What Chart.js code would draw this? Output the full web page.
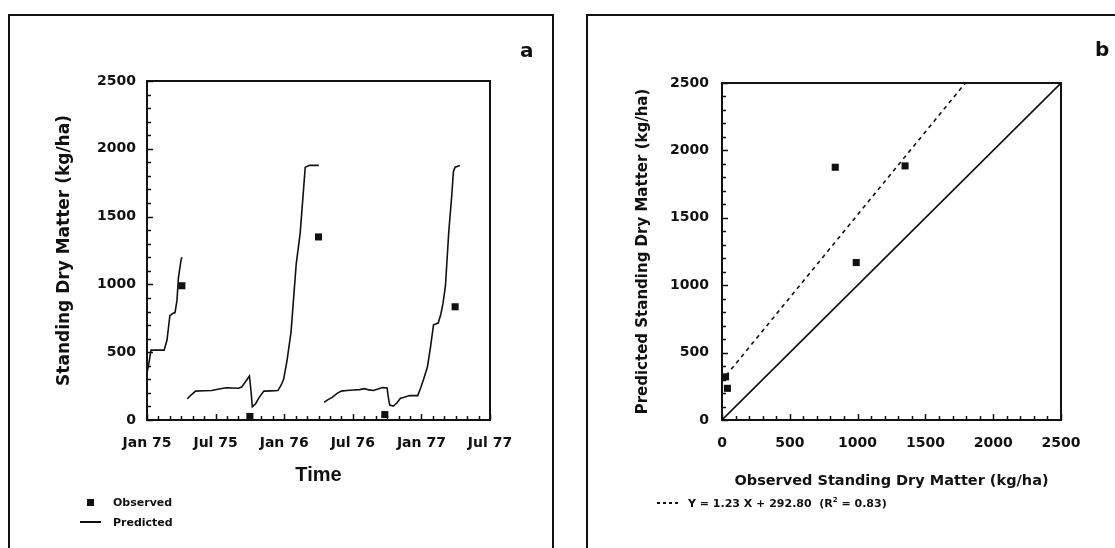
<!DOCTYPE html>
<html>
<head>
<meta charset="utf-8">
<script src="https://cdn.jsdelivr.net/npm/chart.js@4.4.1/dist/chart.umd.min.js"></script>
<style>
  body { margin: 0; width: 1115px; height: 548px; overflow: hidden; background: #fff; position: relative; }
  .panel { position: absolute; box-sizing: border-box; border: 2px solid #111; border-bottom: none; height: 600px; }
  canvas { position: absolute; }
  .txt { position: absolute; font-family: "DejaVu Sans", sans-serif; font-weight: bold; color: #111; white-space: nowrap; transform: translateY(-50%); }
  .mark { position: absolute; background: #111; }
</style>
</head>
<body>
<div class="panel" style="left:8px; top:14px; width:546px;"></div>
<div class="panel" style="left:586px; top:14px; width:600px;"></div>

<canvas id="chartA" width="520" height="450" style="left:20px; top:60px;"></canvas>
<canvas id="chartB" width="520" height="450" style="left:590px; top:60px;"></canvas>

<div class="txt" style="left:520px; top:50px; font-size:20px;">a</div>
<div class="txt" style="left:1095px; top:49px; font-size:20px;">b</div>

<!-- legend, panel a -->
<div class="mark" style="left:87px; top:499px; width:7px; height:7px;"></div>
<div class="txt" style="left:113px; top:502px; font-size:11px;">Observed</div>
<div class="mark" style="left:80px; top:521px; width:21px; height:2px;"></div>
<div class="txt" style="left:113px; top:522px; font-size:11px;">Predicted</div>

<!-- legend, panel b -->
<div style="position:absolute; left:657px; top:502px; width:21px; height:2px; background:repeating-linear-gradient(to right,#111 0 3px,transparent 3px 6px);"></div>
<div class="txt" style="left:688px; top:503px; font-size:11px;">Y = 1.23 X + 292.80&nbsp;&nbsp;(R<sup style="font-size:7px;">2</sup> = 0.83)</div>

<script>
// time axis: months since Jan 1975
const timeTickLabels = ["Jan 75", "Jul 75", "Jan 76", "Jul 76", "Jan 77", "Jul 77"];
const dmTickValues = [0, 500, 1000, 1500, 2000, 2500];

// simulated standing dry matter, null splits the growing seasons
const predMonths = [
    0, 0.15, 0.35, 1.5, 1.75, 2.0, 2.25, 2.45, 2.62, 2.75, 2.97, 3.05,
    3.3,
    3.52, 3.8, 4.25, 5.0, 5.66, 6.3, 6.92, 7.5, 8.02, 8.3, 8.6, 8.96, 9.1, 9.21, 9.5, 9.8,
    10.22, 10.8, 11.45, 11.75, 11.95, 12.25, 12.6, 13.05, 13.4, 13.84, 14.2, 15.03,
    15.3,
    15.5, 15.8, 16.19, 16.6, 16.98, 17.5, 18.08, 18.6, 19.03, 19.4, 19.8, 20.2, 20.6, 21.0,
    21.1, 21.23, 21.54, 21.85, 22.17, 22.5, 22.96, 23.3, 23.68, 23.95, 24.2, 24.53, 24.8,
    25.06, 25.47, 25.7, 25.88, 26.1, 26.4, 26.65, 26.8, 26.95, 27.36
];
const predValues = [
    350, 410, 515, 515, 590, 770, 785, 792, 880, 1050, 1175, 1200,
    null,
    157, 180, 213, 216, 218, 228, 238, 236, 234, 245, 280, 324, 210, 98, 120, 165,
    213, 215, 217, 260, 300, 440, 650, 1150, 1380, 1864, 1878, 1878,
    null,
    131, 148, 167, 195, 213, 218, 221, 224, 231, 222, 218, 228, 239, 236,
    170, 110, 103, 125, 160, 168, 180, 180, 180, 240, 303, 393, 540,
    702, 715, 780, 856, 985, 1396, 1650, 1833, 1864, 1877
];

// field samples
const obsMonths = [3.05, 9.0, 15.0, 20.8, 26.95];
const obsValues = [990, 26, 1350, 40, 835];

// observed vs predicted at the sampling dates
const obsDM = [26, 40, 835, 990, 1350];
const predDM = [320, 235, 1875, 1168, 1885];

// fitted line Y = a X + b
const fitSlope = 1.23;
const fitIntercept = 292.80;
const fitX = [30, (2500 - fitIntercept) / fitSlope];

const ink = "#111";
const tickFont = { family: "DejaVu Sans", weight: "bold", size: 14 };

// frame round the plot and inward tick marks on the bottom and left axes
const frameTicks = {
    id: "frameTicks",
    afterDatasetsDraw(chart) {
        const { ctx, chartArea: a } = chart;
        ctx.save();
        ctx.strokeStyle = ink;
        ctx.lineWidth = 2;
        ctx.strokeRect(a.left, a.top, a.right - a.left, a.bottom - a.top);
        ctx.lineWidth = 1.5;
        ctx.beginPath();
        const xs = chart.scales.x, ys = chart.scales.y;
        xs.ticks.forEach((t) => {
            const px = Math.round(xs.getPixelForValue(t.value)) + 0.5;
            const len = t.label ? 6 : 4;
            ctx.moveTo(px, a.bottom);
            ctx.lineTo(px, a.bottom - len);
        });
        ys.ticks.forEach((t) => {
            const py = Math.round(ys.getPixelForValue(t.value)) + 0.5;
            const len = t.label ? 6 : 4;
            ctx.moveTo(a.left, py);
            ctx.lineTo(a.left + len, py);
        });
        ctx.stroke();
        ctx.restore();
    }
};

// 0..2500 kg/ha axis, a tick every 100, labels every 500
function dmAxis(tickPadding, extra) {
    return Object.assign({
        type: "linear",
        min: 0,
        max: 2500,
        grid: { display: false, drawTicks: false },
        border: { display: false },
        ticks: {
            stepSize: 100,
            autoSkip: false,
            maxRotation: 0,
            minRotation: 0,
            padding: tickPadding,
            color: ink,
            font: tickFont,
            callback: (v) => dmTickValues.includes(v) ? String(v) : ""
        }
    }, extra);
}

const baseOptions = {
    responsive: false,
    animation: false,
    plugins: { legend: { display: false }, tooltip: { enabled: false } },
};

// panel a: time course
new Chart(document.getElementById("chartA"), {
    type: "scatter",
    data: {
        datasets: [
            {
                type: "line",
                data: predMonths.map((m, i) => ({ x: m, y: predValues[i] })),
                borderColor: ink,
                borderWidth: 1.6,
                pointRadius: 0,
                spanGaps: false,
                tension: 0,
            },
            {
                data: obsMonths.map((m, i) => ({ x: m, y: obsValues[i] })),
                pointStyle: "rect",
                pointRadius: 5,
                backgroundColor: ink,
                borderColor: ink,
                borderWidth: 0,
            },
        ],
    },
    options: Object.assign({}, baseOptions, {
        layout: { padding: { top: 21, right: 50, left: 0, bottom: 0 } },
        scales: {
            x: {
                type: "linear",
                min: 0,
                max: 30,
                grid: { display: false, drawTicks: false },
                border: { display: false },
                afterFit: (s) => { s.height = 90; },
                ticks: {
                    stepSize: 1,
                    autoSkip: false,
                    maxRotation: 0,
                    minRotation: 0,
                    padding: 15,
                    color: ink,
                    font: tickFont,
                    callback: (v) => v % 6 === 0 ? timeTickLabels[v / 6] : ""
                },
                title: {
                    display: true,
                    text: "Time",
                    color: ink,
                    font: { family: "Liberation Sans", weight: "bold", size: 20 },
                    padding: { top: 0, bottom: 23 }
                }
            },
            y: dmAxis(11, {
                afterFit: (s) => { s.width = 127; },
                title: {
                    display: true,
                    text: "Standing Dry Matter (kg/ha)",
                    color: ink,
                    font: { family: "DejaVu Sans", weight: "bold", size: 17 },
                    padding: { top: 34, bottom: 0 }
                }
            }),
        },
    }),
    plugins: [frameTicks],
});

// panel b: predicted against observed
new Chart(document.getElementById("chartB"), {
    type: "scatter",
    data: {
        datasets: [
            {
                type: "line",
                data: [{ x: 0, y: 0 }, { x: 2500, y: 2500 }],
                borderColor: ink,
                borderWidth: 1.6,
                pointRadius: 0,
            },
            {
                type: "line",
                data: fitX.map((x) => ({ x: x, y: fitSlope * x + fitIntercept })),
                borderColor: ink,
                borderWidth: 1.6,
                borderDash: [4, 4],
                pointRadius: 0,
            },
            {
                data: obsDM.map((x, i) => ({ x: x, y: predDM[i] })),
                pointStyle: "rect",
                pointRadius: 5,
                backgroundColor: ink,
                borderColor: ink,
                borderWidth: 0,
            },
        ],
    },
    options: Object.assign({}, baseOptions, {
        layout: { padding: { top: 23, right: 49, left: 0, bottom: 0 } },
        scales: {
            x: dmAxis(15, {
                afterFit: (s) => { s.height = 90; },
                title: {
                    display: true,
                    text: "Observed Standing Dry Matter (kg/ha)",
                    color: ink,
                    font: { family: "DejaVu Sans", weight: "bold", size: 14.5 },
                    padding: { top: 0, bottom: 20 }
                }
            }),
            y: dmAxis(13, {
                afterFit: (s) => { s.width = 132; },
                title: {
                    display: true,
                    text: "Predicted Standing Dry Matter (kg/ha)",
                    color: ink,
                    font: { family: "DejaVu Sans", weight: "bold", size: 15 },
                    padding: { top: 44, bottom: 0 }
                }
            }),
        },
    }),
    plugins: [frameTicks],
});
</script>
</body>
</html>
